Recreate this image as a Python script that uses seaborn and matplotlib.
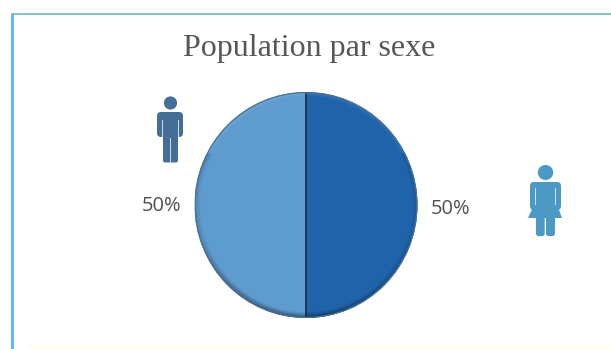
import numpy as np
import matplotlib
matplotlib.use("Agg")
import matplotlib.pyplot as plt
from matplotlib.patches import Circle, Ellipse, FancyBboxPatch, Polygon, Rectangle
import seaborn as sns

# Chart content
title = "Population par sexe"
shares = [50, 50]
share_labels = ["50%", "50%"]
slice_colors = ["#1F63AA", "#5E9BCF"]

sns.set_theme(style="white")
W, H = 611, 349
fig = plt.figure(figsize=(W / 100, H / 100), dpi=100, facecolor="white")

# Page layer in pixel units
page = fig.add_axes([0, 0, 1, 1])
page.set_xlim(0, W)
page.set_ylim(H, 0)
page.axis("off")

page.plot([12, 12], [349, 14], color="#52BBE6", lw=2.0, solid_capstyle="butt")
page.plot([11, 611], [13.5, 13.5], color="#62AFC4", lw=1.1, solid_capstyle="butt")
page.add_patch(Rectangle((30, 346), 581, 3, fc="#FFFDF0", ec="none"))

page.text(309, 48.5, title, ha="center", va="center", fontsize=23,
          family="Liberation Serif", color="#565656")
page.text(161.5, 206, share_labels[1], ha="center", va="center", fontsize=14.5,
          family="Open Sans", color="#505050")
page.text(451, 209, share_labels[0], ha="center", va="center", fontsize=14.5,
          family="Open Sans", color="#505050")


def rounded(x, y, w, h, color, r=2.0):
    page.add_patch(FancyBboxPatch((x + r, y + r), w - 2 * r, h - 2 * r,
                                  boxstyle=f"round,pad={r}", fc=color, ec="none"))


def slit(x, y, w, h):
    page.add_patch(Rectangle((x, y), w, h, fc="white", ec="none", alpha=0.75))


# Male pictogram
man = "#456E96"
page.add_patch(Circle((170.5, 103), 6.6, fc=man, ec="none"))
rounded(157, 112, 26, 25, man, 4)
rounded(163, 130, 15, 32.5, man, 2)
slit(161.8, 120, 1.1, 18)
slit(178.0, 120, 1.1, 18)
slit(170.0, 138, 1.2, 25)

# Female pictogram
woman = "#4A9AC5"
page.add_patch(Ellipse((545.5, 172.5), 15.5, 15, fc=woman, ec="none"))
rounded(530, 182, 31, 28, woman, 4)
page.add_patch(Polygon([(533, 207), (558, 207), (562, 218), (528, 218)], fc=woman, ec="none"))
rounded(536, 215, 8.7, 21, woman, 2.5)
rounded(546, 215, 9, 21, woman, 2.5)
slit(535, 188, 1.1, 17)
slit(555, 188, 1.1, 17)

# Pie, drawn from the share values
cx, cy, rx, ry = 306, 205, 111.5, 113
pie_ax = fig.add_axes([(cx - rx) / W, 1 - (cy + ry) / H, 2 * rx / W, 2 * ry / H])
wedges, _ = pie_ax.pie(shares, colors=slice_colors, startangle=90, counterclock=False,
                       radius=1.0, wedgeprops=dict(edgecolor="none"))
pie_ax.set_zorder(3)

# Soft bevel: lighter rim at the top, darker towards the lower edge
n = 400
xs, ys = np.meshgrid(np.linspace(-1, 1, n), np.linspace(-1, 1, n))
rad = np.hypot(xs, ys)
rgba = np.zeros((n, n, 4))
edge = np.clip((rad - 0.95) / 0.05, 0, 1)
rgba[..., :3] = np.where((ys > 0.45)[..., None], 1.0, 0.02)
rgba[..., 3] = edge * np.where(ys > 0.45, 0.16, 0.5) * np.abs(ys).clip(0.3, 1)
shade = pie_ax.imshow(rgba, extent=(-1, 1, -1, 1), origin="lower", zorder=5)
shade.set_clip_path(Circle((0, 0), 1.0, transform=pie_ax.transData))
pie_ax.plot([0, 0], [-1, 1], color="#1E3050", lw=1.3, zorder=6)
pie_ax.add_patch(Circle((0, 0), 0.995, fc="none", ec="#4C7093", lw=0.9, zorder=6))
pie_ax.set_xlim(-1, 1)
pie_ax.set_ylim(-1, 1)
pie_ax.set_aspect("auto")

fig.savefig("out.png", dpi=100)
